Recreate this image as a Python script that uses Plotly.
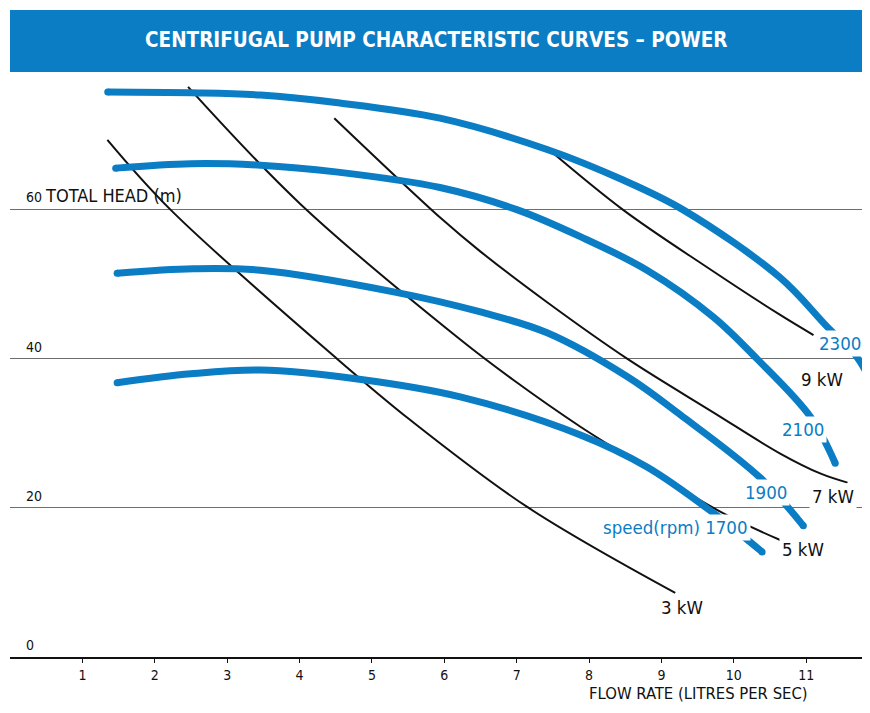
import plotly.graph_objects as go

BLUE = "#0a7dc4"
FONT = "Liberation Sans Narrow, DejaVu Sans Condensed, Arial Narrow, sans-serif"

# pump speed curves (rpm): flow in L/s, head in m
rpm_2300_flow = [1.35, 2.5, 3.46, 4.5, 5.94, 7.42, 8.47, 9.3, 10.64, 11.29, 11.68, 11.95]
rpm_2300_head = [75.8, 75.7, 75.4, 74.4, 72.3, 68.1, 64.0, 60.0, 50.9, 44.3, 40.5, 36.0]

rpm_2100_flow = [1.46, 2.5, 3.46, 4.5, 5.94, 7.01, 7.88, 8.8, 9.72, 10.32, 11.06, 11.4]
rpm_2100_head = [65.6, 66.2, 66.0, 65.1, 63.0, 60.0, 56.4, 51.9, 45.6, 40.0, 32.2, 26.0]

rpm_1900_flow = [1.48, 2.53, 3.46, 5.3, 6.5, 7.42, 8.53, 9.26, 10.37, 10.96]
rpm_1900_head = [51.5, 52.1, 51.9, 49.0, 46.3, 43.5, 37.6, 32.5, 24.0, 17.6]

rpm_1700_flow = [1.48, 2.5, 3.46, 4.8, 6.22, 7.88, 8.8, 9.72, 10.39]
rpm_1700_head = [36.8, 38.0, 38.5, 37.3, 34.9, 29.8, 25.5, 19.3, 14.1]

# power curves (kW)
kw3_flow = [1.345, 2.22, 4.52, 5.53, 7.15, 9.19]
kw3_head = [69.4, 60.0, 40.0, 31.8, 20.1, 8.6]

kw5_flow = [2.46, 4.01, 6.22, 6.95, 7.88, 8.47, 9.85, 10.64]
kw5_head = [76.5, 60.8, 42.6, 37.2, 30.9, 27.3, 19.3, 15.7]

kw7_flow = [4.48, 5.95, 6.5, 7.42, 8.53, 9.72, 10.64, 11.2, 11.57]
kw7_head = [72.3, 58.9, 54.4, 47.6, 40.0, 32.8, 27.3, 24.6, 23.4]

kw9_flow = [7.42, 8.47, 9.63, 10.64, 11.1]
kw9_head = [68.3, 60.0, 52.3, 45.9, 43.2]

speed_curves = [
    (rpm_2300_flow, rpm_2300_head),
    (rpm_2100_flow, rpm_2100_head),
    (rpm_1900_flow, rpm_1900_head),
    (rpm_1700_flow, rpm_1700_head),
]
power_curves = [
    (kw3_flow, kw3_head),
    (kw5_flow, kw5_head),
    (kw7_flow, kw7_head),
    (kw9_flow, kw9_head),
]

# curve labels: text, flow, head, colour
curve_labels = [
    ("2300", 11.47, 42.1, BLUE),
    ("9 kW", 11.22, 37.3, "#111"),
    ("2100", 10.95, 30.5, BLUE),
    ("7 kW", 11.37, 21.6, "#111"),
    ("1900", 10.45, 22.1, BLUE),
    ("speed(rpm) 1700", 9.2, 17.4, BLUE),
    ("5 kW", 10.95, 14.4, "#111"),
    ("3 kW", 9.29, 6.7, "#111"),
]

x_ticks = list(range(1, 12))
y_ticks = [0, 20, 40, 60]

fig = go.Figure()

for flow, head in power_curves:
    fig.add_trace(go.Scatter(
        x=flow, y=head, mode="lines",
        line=dict(color="#111", width=2, shape="spline"),
        hoverinfo="skip", showlegend=False
    ))

for flow, head in speed_curves:
    fig.add_trace(go.Scatter(
        x=flow, y=head, mode="lines",
        line=dict(color=BLUE, width=7, shape="spline"),
        hoverinfo="skip", showlegend=False
    ))
    # round caps at the two ends of each thick curve
    fig.add_trace(go.Scatter(
        x=[flow[0], flow[-1]], y=[head[0], head[-1]], mode="markers",
        marker=dict(color=BLUE, size=7, line=dict(width=0)),
        hoverinfo="skip", showlegend=False
    ))

annotations = []
for text, x, y, color in curve_labels:
    annotations.append(dict(
        x=x, y=y, xref="x", yref="y", text=text, showarrow=False,
        font=dict(family=FONT, size=18.5, color=color),
        bgcolor="white", borderpad=2
    ))

for v in y_ticks:
    label = str(v)
    if v == 60:
        label = "60 <span style='font-size:18px'>TOTAL HEAD (m)</span>"
    annotations.append(dict(
        x=0.19, y=v, xref="x", yref="y", text=label, showarrow=False,
        xanchor="left", yanchor="bottom", yshift=2,
        font=dict(family=FONT, size=14, color="#111")
    ))

annotations.append(dict(
    x=9.51, y=-0.0825, xref="x", yref="paper", text="FLOW RATE (LITRES PER SEC)",
    showarrow=False, yanchor="bottom",
    font=dict(family=FONT, size=16.5, color="#111")
))

# title banner
annotations.append(dict(
    x=0.5, y=1.0547, xref="paper", yref="paper",
    text="<b>CENTRIFUGAL PUMP CHARACTERISTIC CURVES – POWER</b>",
    showarrow=False, yanchor="middle",
    font=dict(family=FONT, size=20.5, color="white")
))

# page body adds an 8px margin, so keep the figure inside the window
fig.update_layout(
    width=854, height=697,
    margin=dict(l=2, r=0, t=64, b=48),
    paper_bgcolor="white", plot_bgcolor="white",
    annotations=annotations,
    shapes=[dict(
        type="rect", xref="paper", yref="paper",
        x0=0, x1=1, y0=1.0, y1=1.106,
        fillcolor=BLUE, line=dict(width=0), layer="below"
    )],
)

fig.update_xaxes(
    range=[0, 11.77], tickvals=x_ticks, ticks="outside", ticklen=4,
    tickcolor="#111", showgrid=False, zeroline=False,
    showline=True, linecolor="#111", linewidth=2,
    tickfont=dict(family=FONT, size=14, color="#111")
)
fig.update_yaxes(
    range=[0, 78.5], tickvals=y_ticks, showticklabels=False,
    showgrid=True, gridcolor="#6e6e6e", gridwidth=1.2, zeroline=False
)

fig.write_html("out.html")
